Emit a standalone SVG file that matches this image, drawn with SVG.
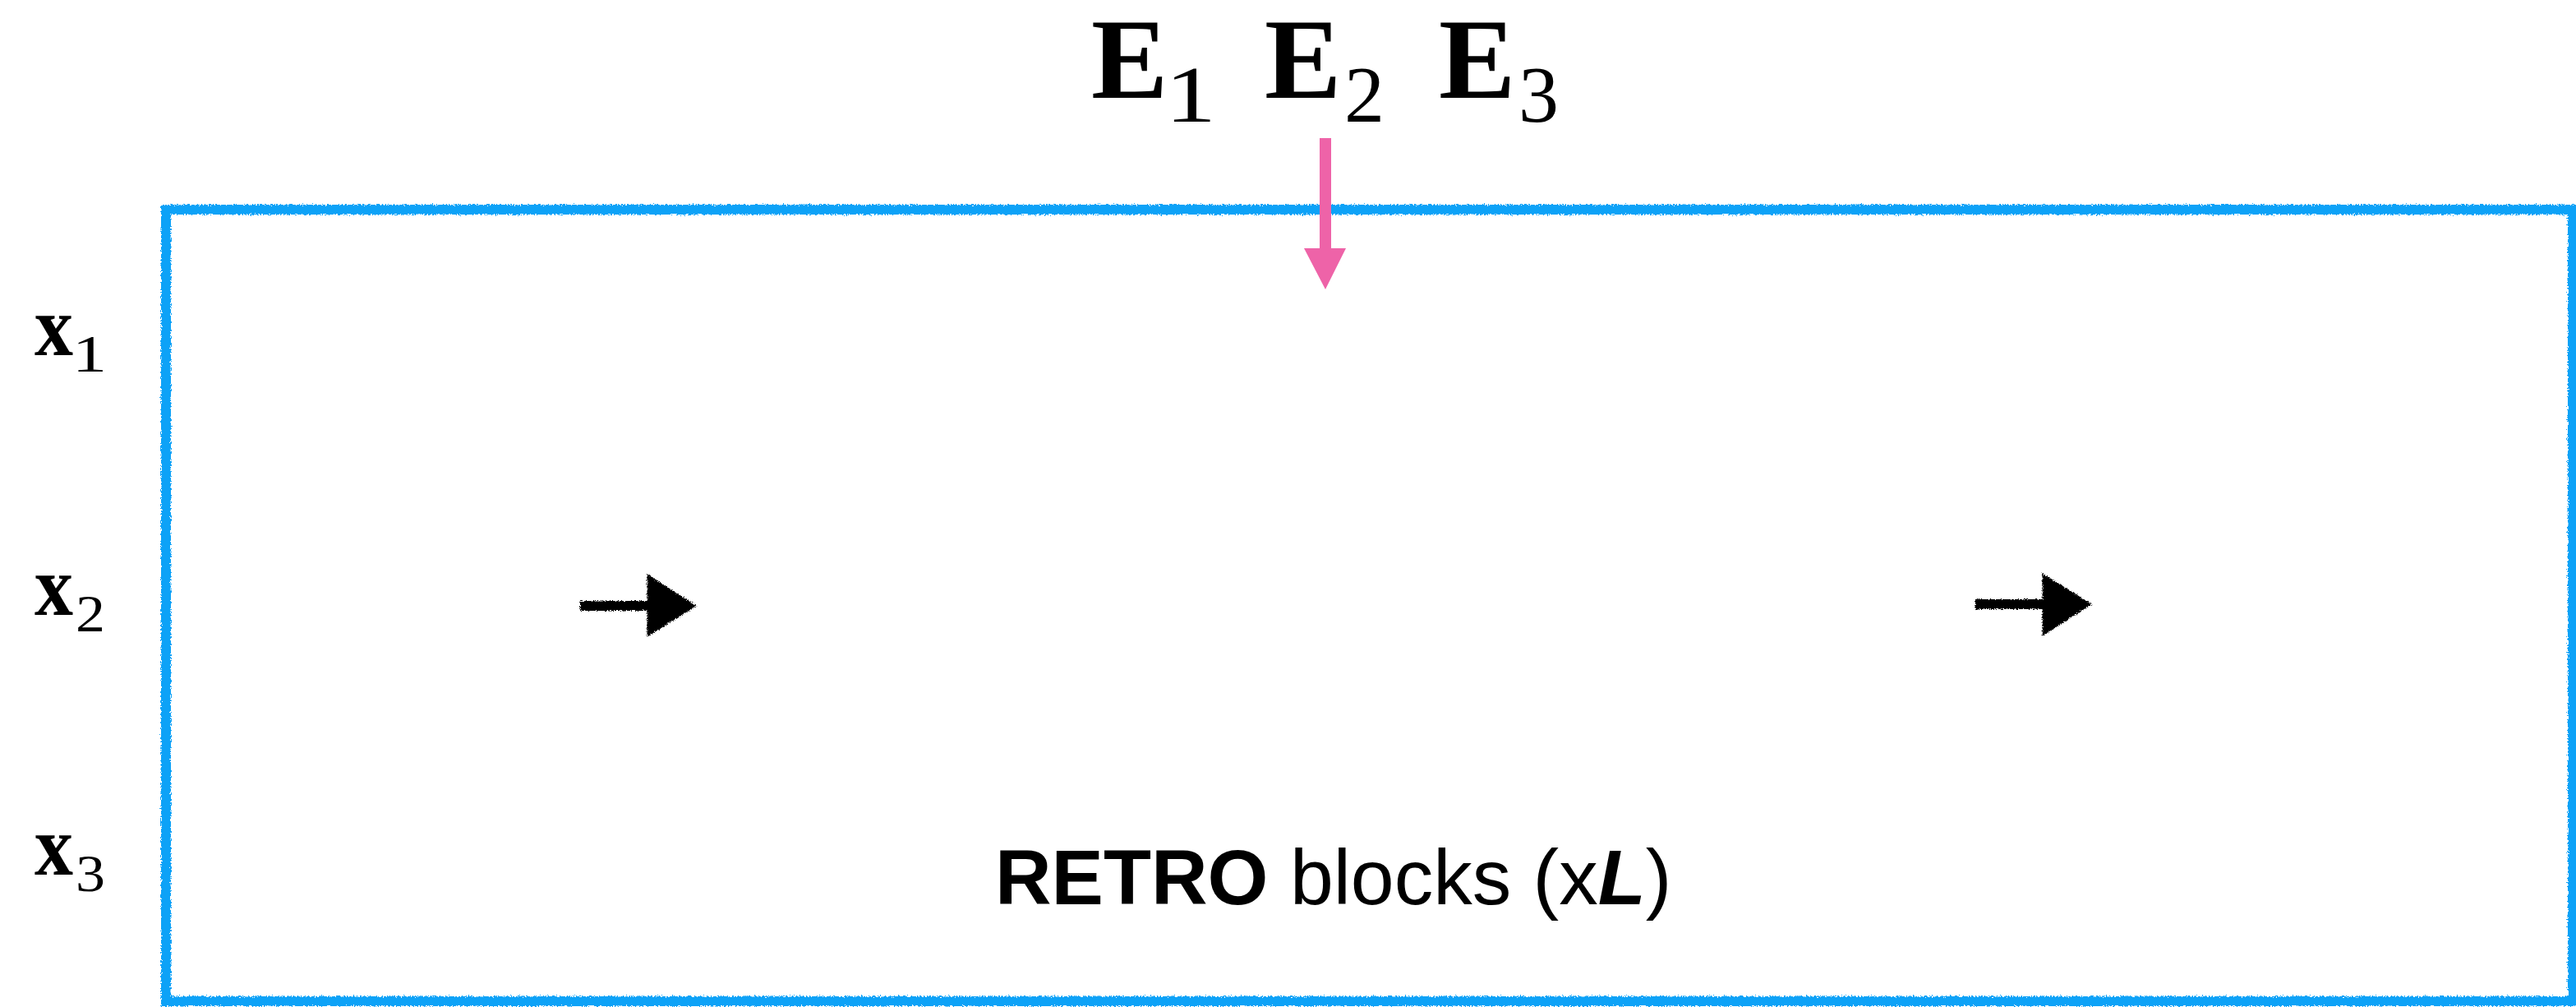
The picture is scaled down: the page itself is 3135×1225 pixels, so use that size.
<svg xmlns="http://www.w3.org/2000/svg" width="3135" height="1225" viewBox="0 0 3135 1225">
<style>
.serif{font-family:"Liberation Serif","DejaVu Serif",serif;fill:#000}
.bigE{font-size:140px;font-weight:bold}
.subE{font-size:98px}
.xv{font-size:103px;font-weight:bold}
.subx{font-size:64px}
.sans{font-family:"Liberation Sans",Arial,sans-serif;font-size:95px;fill:#000}
.box{fill:none;stroke:#0AA2F7;stroke-width:12}
.blk{fill:#000;stroke:#000}
</style>
<defs>
<filter id="rough" x="-5%" y="-5%" width="110%" height="110%">
<feTurbulence type="fractalNoise" baseFrequency="0.6" numOctaves="2" seed="3" result="n"/>
<feDisplacementMap in="SourceGraphic" in2="n" scale="6" xChannelSelector="R" yChannelSelector="G"/>
</filter>
<filter id="rough2" x="-20%" y="-20%" width="140%" height="140%">
<feTurbulence type="fractalNoise" baseFrequency="0.8" numOctaves="2" seed="7" result="n"/>
<feDisplacementMap in="SourceGraphic" in2="n" scale="5" xChannelSelector="R" yChannelSelector="G"/>
</filter>
</defs>
<rect width="3135" height="1225" fill="#fff"/>

<g id="retro-box">
<rect class="box" x="202" y="255" width="2929" height="963" filter="url(#rough)"/>
<text class="sans" x="1211" y="1100"><tspan font-weight="bold">RETRO</tspan> blocks (x<tspan font-weight="bold" font-style="italic">L</tspan>)</text>
</g>

<g id="E-labels">
<text class="serif bigE" x="1328" y="119">E</text>
<text class="serif subE" x="1418" y="148" textLength="62" lengthAdjust="spacingAndGlyphs">1</text>
<text class="serif bigE" x="1539" y="119">E</text>
<text class="serif subE" x="1636" y="148">2</text>
<text class="serif bigE" x="1751" y="119">E</text>
<text class="serif subE" x="1848" y="148">3</text>
</g>

<g id="x1">
<text class="serif xv" x="42" y="432" textLength="47" lengthAdjust="spacingAndGlyphs">x</text>
<text class="serif subx" x="88" y="452" textLength="42" lengthAdjust="spacingAndGlyphs">1</text>
</g>
<g id="x2">
<text class="serif xv" x="42" y="748" textLength="47" lengthAdjust="spacingAndGlyphs">x</text>
<text class="serif subx" x="92" y="768" textLength="36" lengthAdjust="spacingAndGlyphs">2</text>
</g>
<g id="x3">
<text class="serif xv" x="42" y="1064" textLength="47" lengthAdjust="spacingAndGlyphs">x</text>
<text class="serif subx" x="92" y="1084" textLength="36" lengthAdjust="spacingAndGlyphs">3</text>
</g>

<g id="connectors">
<g id="pink-arrow">
<rect x="1606" y="168" width="14" height="136" fill="#EE63A8"/>
<polygon points="1587,302 1638,302 1613,352" fill="#EE63A8"/>
</g>
<g id="arrow-left" filter="url(#rough2)">
<rect class="blk" x="706" y="731" width="84" height="12" stroke-width="0"/>
<polygon class="blk" points="789,701 845,737 789,772" stroke-width="3"/>
</g>
<g id="arrow-right" filter="url(#rough2)">
<rect class="blk" x="2404" y="729" width="84" height="12" stroke-width="0"/>
<polygon class="blk" points="2487,700 2543,735 2487,771" stroke-width="3"/>
</g>
</g>
</svg>
